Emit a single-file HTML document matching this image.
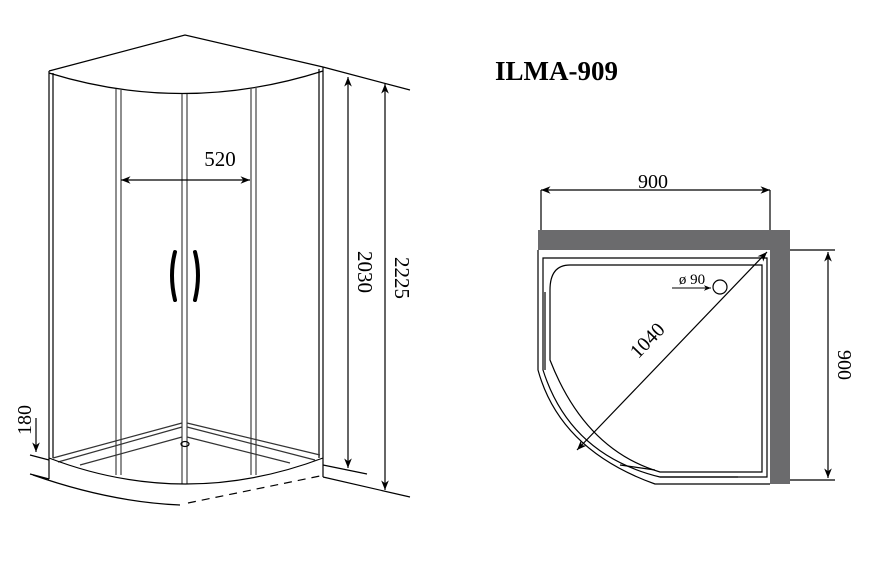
<!DOCTYPE html><html><head><style>body{margin:0;background:#fff}svg{display:block}text{font-family:"Liberation Serif",serif;fill:#000}</style></head><body>
<svg width="877" height="582" viewBox="0 0 877 582" xmlns="http://www.w3.org/2000/svg">
<defs><marker id="a" viewBox="0 0 10 10" refX="10" refY="5" markerWidth="8" markerHeight="8" orient="auto-start-reverse"><path d="M0,1 L10,5 L0,9 L3,5z" fill="#000"/></marker></defs>
<g fill="none" stroke="#000" stroke-width="1.2">
<path d="M49,71 L185,35 L323,67"/>
<path d="M49,73 Q185,115 323,71"/>
<path d="M49,71 V479 M53,73 V458 M319,69 V458 M323,67 V477"/>
<path d="M116,89 V475 M121,90 V475 M251,88 V475 M256,87 V475 M182,94 V484 M187,94 V484" stroke="#444"/>
<path d="M53,458 L182,423 M187,423 L320,455 M58,462 L182,427 M187,427 L315,460 M80,465 L182,437 M187,437 L290,463" stroke="#333"/>
<ellipse cx="185" cy="444" rx="4" ry="2.5"/>
<path d="M49,458 Q185,510 323,458"/>
<path d="M33,475 Q110,502 180,505"/>
<path d="M188,503 L320,476" stroke-dasharray="8,6"/>
<path d="M323,67 L410,90 M323,465 L367,474 M323,477 L410,497 M30,455 L49,460 M30,474 L49,479"/>
<path d="M121,180 H250" marker-start="url(#a)" marker-end="url(#a)"/>
<path d="M348,77 V468" marker-start="url(#a)" marker-end="url(#a)"/>
<path d="M385,84 V490" marker-start="url(#a)" marker-end="url(#a)"/>
<path d="M36,418 V452" marker-end="url(#a)"/>
</g>
<path d="M175,252 Q169,275 175,300" stroke="#000" stroke-width="4" fill="none" stroke-linecap="round"/>
<path d="M195,252 Q201,275 195,300" stroke="#000" stroke-width="4" fill="none" stroke-linecap="round"/>
<text x="220" y="166" font-size="21" text-anchor="middle">520</text>
<text transform="translate(358,272) rotate(90)" font-size="21" text-anchor="middle">2030</text>
<text transform="translate(395,278) rotate(90)" font-size="21" text-anchor="middle">2225</text>
<text transform="translate(31,420) rotate(-90)" font-size="20" text-anchor="middle">180</text>
<text x="495" y="80" font-size="27" font-weight="bold">ILMA-909</text>
<rect x="538" y="230" width="252" height="20" fill="#6b6b6d"/>
<rect x="770" y="230" width="20" height="254" fill="#6b6b6d"/>
<g fill="none" stroke="#000" stroke-width="1.2">
<path d="M541,190 H770" marker-start="url(#a)" marker-end="url(#a)"/>
<path d="M541,190 V230 M770,190 V230 M790,250 H835 M790,480 H835"/>
<path d="M828,252 V478" marker-start="url(#a)" marker-end="url(#a)"/>
<path d="M538,250 V370 Q560,450 655,484 H770"/>
<path d="M543,258 H767 V477 H660 Q570,455 543,370 Z"/>
<path d="M570,265 H762 V472 H660 Q585,450 550,360 V290 Q550,265 570,265 Z"/>
<path d="M545,292 V370 M620,465 L655,470 M660,477 H738"/>
<path d="M767,252 L577,450" marker-start="url(#a)" marker-end="url(#a)"/>
<circle cx="720" cy="287" r="7"/>
<path d="M672,288 H711" stroke-width="0.9" marker-end="url(#a)"/>
</g>
<text x="653" y="188" font-size="20" text-anchor="middle">900</text>
<text transform="translate(838,365) rotate(90)" font-size="20" text-anchor="middle">900</text>
<text x="692" y="284" font-size="15" text-anchor="middle">ø 90</text>
<text transform="translate(652,345) rotate(-46)" font-size="20" text-anchor="middle">1040</text>
</svg></body></html>
